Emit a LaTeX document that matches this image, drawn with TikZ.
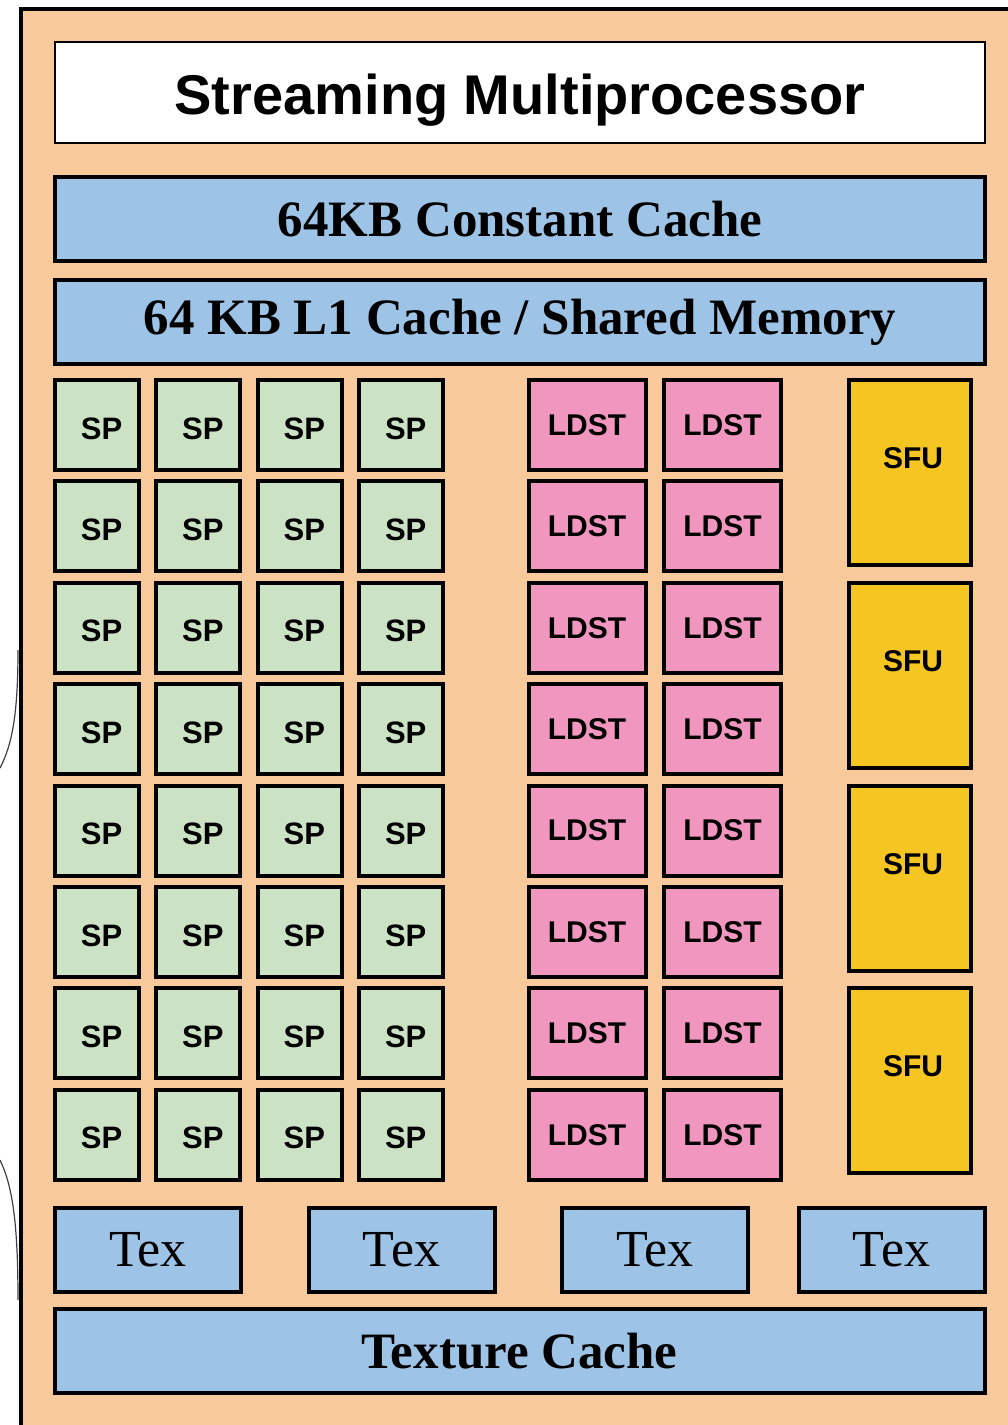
\documentclass[tikz,border=0pt]{standalone}
\usepackage{fontspec}
\setmainfont{Liberation Serif}
\newfontfamily\arialfont{Liberation Sans}
\usepackage{tikz}
\usetikzlibrary{positioning}

\definecolor{smorange}{HTML}{F8CA9B}
\definecolor{cacheblue}{HTML}{9DC3E6}
\definecolor{spgreen}{HTML}{CBE3C4}
\definecolor{ldstpink}{HTML}{F197BF}
\definecolor{sfuyellow}{HTML}{F5C522}

\tikzset{
    % A thick outlined box for every hardware unit
    unit_box/.style={
        rectangle, draw=black, line width=4pt, inner sep=0pt, align=center
    },
    % Scalar processors (label sits a little right and low)
    sp_node/.style={
        unit_box, fill=spgreen, minimum width=84pt, minimum height=90pt,
        text height=28pt, text depth=0pt,
        execute at begin node=\hspace*{9pt},
        font=\arialfont\bfseries\fontsize{31}{31}\selectfont
    },
    % Load / store units
    ldst_node/.style={
        unit_box, fill=ldstpink, minimum width=117pt, minimum height=90pt,
        font=\arialfont\bfseries\fontsize{30}{30}\selectfont
    },
    % Special function units (text sits a bit high)
    sfu_node/.style={
        unit_box, fill=sfuyellow, minimum width=122pt, minimum height=185pt,
        text height=22pt, text depth=30pt,
        execute at begin node=\hspace*{6pt},
        font=\arialfont\bfseries\fontsize{30}{30}\selectfont
    },
    % Caches and texture units
    cache_node/.style={
        unit_box, fill=cacheblue, minimum width=930pt, minimum height=84pt,
        font=\bfseries\fontsize{51}{51}\selectfont
    },
    tex_node/.style={
        unit_box, fill=cacheblue, minimum width=186pt, minimum height=84pt,
        font=\fontsize{52}{52}\selectfont
    },
    % Wires coming in from outside the picture
    wire/.style={draw=black!75, line width=1.2pt}
}

\begin{document}
\begin{tikzpicture}[x=1pt, y=-1pt]
\useasboundingbox (0,0) rectangle (1008,1425);

% --- STREAMING MULTIPROCESSOR FRAME ---
\fill[smorange] (21,9) rectangle (1040,1460);
\draw[line width=4pt] (21,1460) -- (21,9) -- (1040,9);

% --- WIRES ENTERING FROM THE LEFT ---
\coordinate (wire_a_out) at (0,768);
\coordinate (wire_a_in) at (18,650);
\coordinate (wire_b_out) at (0,1160);
\coordinate (wire_b_in) at (18,1300);
\draw[wire] (wire_a_out) .. controls (12,745) and (18,715) .. (wire_a_in);
\draw[wire] (wire_b_out) .. controls (12,1185) and (18,1220) .. (wire_b_in);

% --- TITLE AND CACHES ---
\node[rectangle, draw=black, line width=1.5pt, fill=white,
      minimum width=930pt, minimum height=101pt, inner sep=0pt,
      text height=56pt, text depth=12pt,
      font=\arialfont\bfseries\fontsize{56}{56}\selectfont] (title) at (520,92.5)
      {Streaming Multiprocessor};
\node[cache_node] (const_cache) at (520,219) {64KB Constant Cache};
\node[cache_node] (l1_cache) at (520,322) {64 KB L1 Cache / Shared Memory};

% --- EXECUTION UNITS ---
\foreach \row in {0,...,7} {
    \foreach \col in {0,...,3}
        \node[sp_node] (sp_\row_\col) at ({97+101.4*\col},{425+101.4*\row}) {SP};
    \node[ldst_node] (ldst_\row_a) at (587,{425+101.4*\row}) {LDST};
    \node[ldst_node] (ldst_\row_b) at (722.5,{425+101.4*\row}) {LDST};
}
\foreach \i in {0,...,3}
    \node[sfu_node] (sfu_\i) at (910,{472.5+202.8*\i}) {SFU};

% --- TEXTURE UNITS ---
\foreach \x [count=\i] in {148,401.5,655,891.5}
    \node[tex_node] (tex_\i) at (\x,1250) {Tex};
\node[cache_node] (tex_cache) at (519.5,1351) {Texture Cache};

\end{tikzpicture}
\end{document}
